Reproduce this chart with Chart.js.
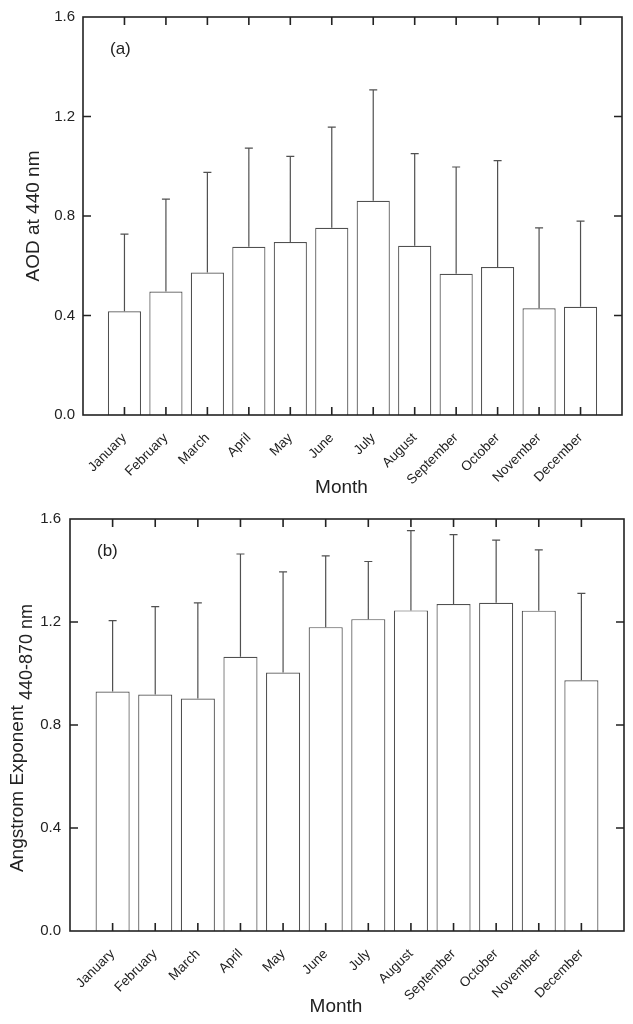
<!DOCTYPE html>
<html>
<head>
<meta charset="utf-8">
<script src="https://cdn.jsdelivr.net/npm/chart.js@4.4.1/dist/chart.umd.min.js"></script>
<style>
  html, body { margin: 0; padding: 0; background: #fff; }
  .painel { position: absolute; left: 0; width: 633px; }
  #painel-a { top: 0; height: 500px; }
  #painel-b { top: 500px; height: 524px; }
</style>
</head>
<body>
<div class="painel" id="painel-a"><canvas id="chartAOD"></canvas></div>
<div class="painel" id="painel-b"><canvas id="chartAngstrom"></canvas></div>
<script>
// Dados
const meses = ['January', 'February', 'March', 'April', 'May', 'June', 'July',
  'August', 'September', 'October', 'November', 'December'];
const aodMedia = [0.417, 0.496, 0.573, 0.676, 0.695, 0.753, 0.861, 0.680, 0.568, 0.595, 0.429, 0.435];
const aodDesvio = [0.310, 0.372, 0.402, 0.397, 0.345, 0.404, 0.446, 0.371, 0.429, 0.428, 0.323, 0.344];
const angMedia = [0.930, 0.918, 0.903, 1.065, 1.004, 1.180, 1.211, 1.245, 1.270, 1.275, 1.244, 0.974];
const angDesvio = [0.275, 0.342, 0.371, 0.399, 0.391, 0.277, 0.224, 0.310, 0.269, 0.243, 0.236, 0.337];
const yMin = 0;
const yMax = 1.6;
const yPasso = 0.4;

const fonte = '"Liberation Sans", Arial, sans-serif';
const corTexto = '#222';

// Barras de erro (só para cima)
function criarBarrasErro(medias, desvios) {
  return {
    id: 'barrasErro',
    afterDatasetsDraw(chart) {
      const ctx = chart.ctx;
      const y = chart.scales.y;
      const meta = chart.getDatasetMeta(0);
      ctx.save();
      ctx.strokeStyle = '#505050';
      ctx.lineWidth = 1.2;
      ctx.beginPath();
      meta.data.forEach((bar, i) => {
        const topo = y.getPixelForValue(medias[i] + desvios[i]);
        ctx.moveTo(bar.x, bar.y);
        ctx.lineTo(bar.x, topo);
        ctx.moveTo(bar.x - 4, topo);
        ctx.lineTo(bar.x + 4, topo);
      });
      ctx.stroke();
      ctx.restore();
    }
  };
}

// Moldura com marcas para dentro, rótulo do painel e título "Month"
function criarMoldura(rotulo, yMonth) {
  return {
    id: 'moldura',
    afterDraw(chart) {
      const { ctx, chartArea: a } = chart;
      const x = chart.scales.x;
      const y = chart.scales.y;
      ctx.save();
      ctx.strokeStyle = '#222';
      ctx.lineWidth = 1.6;
      ctx.strokeRect(a.left, a.top, a.right - a.left, a.bottom - a.top);
      ctx.beginPath();
      meses.forEach((m, i) => {
        const px = x.getPixelForValue(i + 1);
        ctx.moveTo(px, a.bottom);
        ctx.lineTo(px, a.bottom - 8);
        ctx.moveTo(px, a.top);
        ctx.lineTo(px, a.top + 8);
      });
      y.ticks.forEach((t) => {
        if (t.value <= yMin || t.value >= yMax) return;
        const py = y.getPixelForValue(t.value);
        ctx.moveTo(a.left, py);
        ctx.lineTo(a.left + 8, py);
        ctx.moveTo(a.right, py);
        ctx.lineTo(a.right - 8, py);
      });
      ctx.stroke();
      ctx.fillStyle = corTexto;
      ctx.font = '17px ' + fonte;
      ctx.textBaseline = 'middle';
      ctx.fillText(rotulo, a.left + 27, a.top + 32);
      // título do eixo x, um pouco à esquerda do centro como no original
      ctx.font = '19px ' + fonte;
      ctx.textAlign = 'center';
      ctx.fillText('Month', (a.left + a.right) / 2 - 11, a.bottom + yMonth);
      ctx.restore();
    }
  };
}

// Título do eixo y com subscrito (painel b)
const tituloAngstrom = {
  id: 'tituloAngstrom',
  afterDraw(chart) {
    const { ctx, chartArea: a } = chart;
    const principal = 'Angstrom Exponent';
    const subscrito = '440-870 nm';
    ctx.save();
    ctx.fillStyle = corTexto;
    ctx.font = '19px ' + fonte;
    const w1 = ctx.measureText(principal + ' ').width;
    ctx.font = '18px ' + fonte;
    const w2 = ctx.measureText(subscrito).width;
    const centro = (a.top + a.bottom) / 2 + 13;
    const inicio = centro + (w1 + w2) / 2;
    ctx.translate(0, inicio);
    ctx.rotate(-Math.PI / 2);
    ctx.textBaseline = 'alphabetic';
    ctx.font = '19px ' + fonte;
    ctx.fillText(principal, 0, 23);
    ctx.font = '18px ' + fonte;
    ctx.fillText(subscrito, w1, 32);
    ctx.restore();
  }
};

function criarGrafico(id, medias, desvios, opc) {
  const ctx = document.getElementById(id).getContext('2d');
  const plugins = [criarBarrasErro(medias, desvios), criarMoldura(opc.rotulo, opc.yMonth)];
  if (opc.extra) plugins.push(opc.extra);
  return new Chart(ctx, {
    type: 'bar',
    data: {
      datasets: [
        {
          data: medias.map((v, i) => ({ x: i + 1, y: v })),
          backgroundColor: '#fff',
          borderColor: '#505050',
          borderWidth: 1.2,
          barPercentage: 0.8,
          categoryPercentage: 1.0
        }
      ]
    },
    options: {
      responsive: true,
      maintainAspectRatio: false,
      animation: false,
      layout: { padding: opc.padding },
      plugins: {
        legend: { display: false },
        tooltip: { enabled: false }
      },
      scales: {
        x: {
          type: 'linear',
          offset: false,
          min: 0,
          max: meses.length + 1,
          grid: { display: false, drawTicks: false },
          border: { display: false },
          // altura fixa e sem folga extra dos rótulos girados
          afterFit: (s) => {
            s.height = opc.alturaX;
            s.paddingLeft = 0;
            s.paddingRight = 0;
          },
          ticks: {
            stepSize: 1,
            autoSkip: false,
            maxRotation: 45,
            minRotation: 45,
            padding: 15,
            color: corTexto,
            font: { family: fonte, size: 13.5 },
            callback: (v) => meses[v - 1] || ''
          }
        },
        y: {
          min: yMin,
          max: yMax,
          grid: { display: false, drawTicks: false },
          border: { display: false },
          afterFit: (s) => { s.width = opc.larguraY; },
          ticks: {
            stepSize: yPasso,
            padding: opc.padTicksY,
            color: corTexto,
            font: { family: fonte, size: 15 },
            callback: (v) => v.toFixed(1)
          },
          title: {
            display: !!opc.tituloY,
            text: opc.tituloY || '',
            color: corTexto,
            font: { family: fonte, size: 19 },
            padding: { top: 22, bottom: 0 }
          }
        }
      }
    },
    plugins: plugins
  });
}

document.addEventListener('DOMContentLoaded', () => {
  criarGrafico('chartAOD', aodMedia, aodDesvio, {
    rotulo: '(a)',
    tituloY: 'AOD at 440 nm',
    padding: { left: 0, right: 11, top: 14, bottom: 0 },
    larguraY: 83,
    alturaX: 85,
    yMonth: 73,
    padTicksY: 8
  });
  criarGrafico('chartAngstrom', angMedia, angDesvio, {
    rotulo: '(b)',
    tituloY: '',
    padding: { left: 0, right: 9, top: 19, bottom: 0 },
    larguraY: 70,
    alturaX: 93,
    yMonth: 76,
    padTicksY: 9,
    extra: tituloAngstrom
  });
});
</script>
</body>
</html>
